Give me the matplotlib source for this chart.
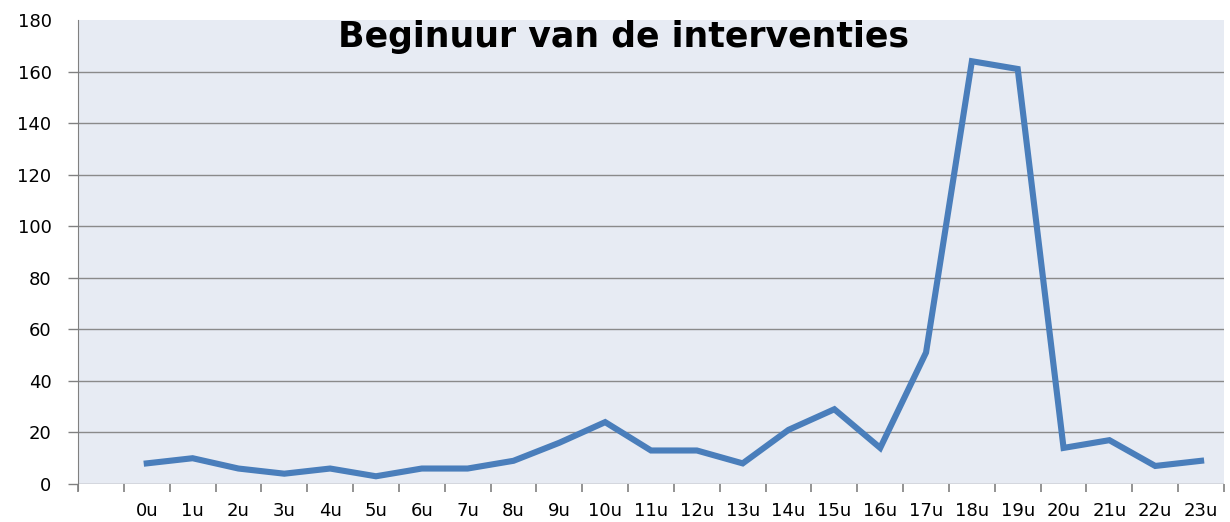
import numpy as np
import matplotlib
matplotlib.use("Agg")
import matplotlib.pyplot as plt

# first slot is empty, then 0u..23u
labels = [""] + [str(h) + "u" for h in range(24)]
counts = [8, 10, 6, 4, 6, 3, 6, 6, 9, 16, 24, 13,
          13, 8, 21, 29, 14, 51, 164, 161, 14, 17, 7, 9]
yticks = list(range(0, 181, 20))

fig = plt.figure(figsize=(12.3, 5.22), dpi=100)
ax = fig.add_axes([78/1230, 1 - 484/522, (1224 - 78)/1230, (484 - 20)/522])
ax.set_facecolor("#e7ebf3")

x = np.arange(1, len(counts) + 1)
ax.plot(x, counts, color="#4a7ebb", lw=4.4, solid_joinstyle="miter", zorder=3)

ax.set_xlim(-0.5, len(labels) - 0.5)
ax.set_ylim(0, 180)
ax.set_yticks(yticks)
ax.yaxis.grid(True, color="#8a8a8a", lw=1)
ax.set_axisbelow(True)
ax.get_ygridlines()[-1].set_visible(False)
ax.yaxis.get_major_ticks()[-1].tick1line.set_visible(False)

ax.set_xticks(np.arange(len(labels)))
ax.set_xticklabels(labels)
ax.set_xticks(np.arange(-0.5, len(labels)), minor=True)
ax.tick_params(axis="x", which="major", length=0, pad=13, labelsize=13)
ax.tick_params(axis="x", which="minor", length=6, width=1.2, color="#808080")
ax.tick_params(axis="y", length=7, width=1, color="#808080", pad=12, labelsize=13)

for s in ["top", "right", "bottom"]:
    ax.spines[s].set_visible(False)
ax.spines["left"].set_color("#808080")
ax.spines["left"].set_bounds(-2.5, 180)
ax.spines["left"].set_clip_on(False)

fig.text(624/1230, 1 - 37/522, "Beginuur van de interventies",
         fontsize=25, fontweight="bold", ha="center", va="center")

plt.savefig("out.png", dpi=100)
